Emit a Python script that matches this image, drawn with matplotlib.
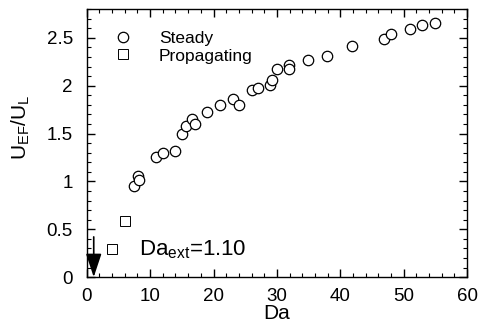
import numpy as np
import matplotlib
matplotlib.use('Agg')
import matplotlib.pyplot as plt
from matplotlib.ticker import MultipleLocator

plt.rcParams['font.family'] = ['Liberation Sans', 'DejaVu Sans']
plt.rcParams['mathtext.fontset'] = 'custom'
plt.rcParams['mathtext.rm'] = 'Liberation Sans'
plt.rcParams['mathtext.it'] = 'Liberation Sans'

# steady flames
da_steady = [7.4, 8.05, 8.2, 10.9, 11.95, 13.95, 14.95, 15.7, 16.6, 17.05, 18.9, 21.0,
             23.0, 23.95, 26.0, 26.95, 28.85, 29.3, 29.95, 31.9, 31.9, 34.85, 37.9,
             41.9, 46.9, 47.95, 50.95, 52.9, 54.95]
u_steady = [0.95, 1.06, 1.01, 1.26, 1.30, 1.32, 1.50, 1.58, 1.65, 1.60, 1.73, 1.80,
            1.86, 1.80, 1.95, 1.98, 2.01, 2.06, 2.17, 2.22, 2.17, 2.27, 2.31,
            2.41, 2.49, 2.54, 2.59, 2.63, 2.66]

# propagating flames
da_prop = [4.0, 6.05]
u_prop = [0.29, 0.59]

# extinction Damkohler number
da_ext = 1.10

fig = plt.figure(figsize=(4.82, 3.26), dpi=100)
ax = fig.add_axes([0.180, 0.150, 0.789, 0.822])

ax.plot(da_steady, u_steady, linestyle='none', marker='o', ms=7.5, mfc='white',
        mec='k', mew=0.9, label='Steady')
ax.plot(da_prop, u_prop, linestyle='none', marker='s', ms=6.5, mfc='white',
        mec='k', mew=0.7, label='Propagating')

# arrow at extinction
ax.annotate('', xy=(da_ext, 0), xytext=(da_ext, 0.42),
            arrowprops=dict(arrowstyle='-|>,head_length=0.9,head_width=0.3',
                            color='k', lw=1.2, mutation_scale=16, shrinkA=0, shrinkB=0))
ax.text(8.2, 0.23, r'$\mathrm{Da_{ext}}$=%.2f' % da_ext, fontsize=16)

ax.set_xlim(0, 60)
ax.set_ylim(0, 2.8)
ax.xaxis.set_major_locator(MultipleLocator(10))
ax.xaxis.set_minor_locator(MultipleLocator(2))
ax.yaxis.set_major_locator(MultipleLocator(0.5))
ax.yaxis.set_minor_locator(MultipleLocator(0.1))
ax.set_yticks([0, 0.5, 1, 1.5, 2, 2.5])
ax.set_yticklabels(['0', '0.5', '1', '1.5', '2', '2.5'])
ax.tick_params(which='both', direction='in', top=True, right=True, labelsize=13.5)
ax.tick_params(which='major', length=6, width=1)
ax.tick_params(which='minor', length=3, width=0.8)
ax.tick_params(axis='x', pad=8)
ax.tick_params(axis='y', pad=10)
for sp in ax.spines.values():
    sp.set_linewidth(1)

ax.set_xlabel('Da', fontsize=15, labelpad=-1)
ax.set_ylabel(r'$\mathrm{U_{EF}/U_L}$', fontsize=15)
ax.yaxis.set_label_coords(-0.145, 0.56)

ax.legend(loc='upper left', frameon=False, fontsize=12.5, handletextpad=1.3,
          borderaxespad=0.3, bbox_to_anchor=(0.03, 0.965), labelspacing=0.15,
          handlelength=1.5)

plt.savefig('out.png', dpi=100)
